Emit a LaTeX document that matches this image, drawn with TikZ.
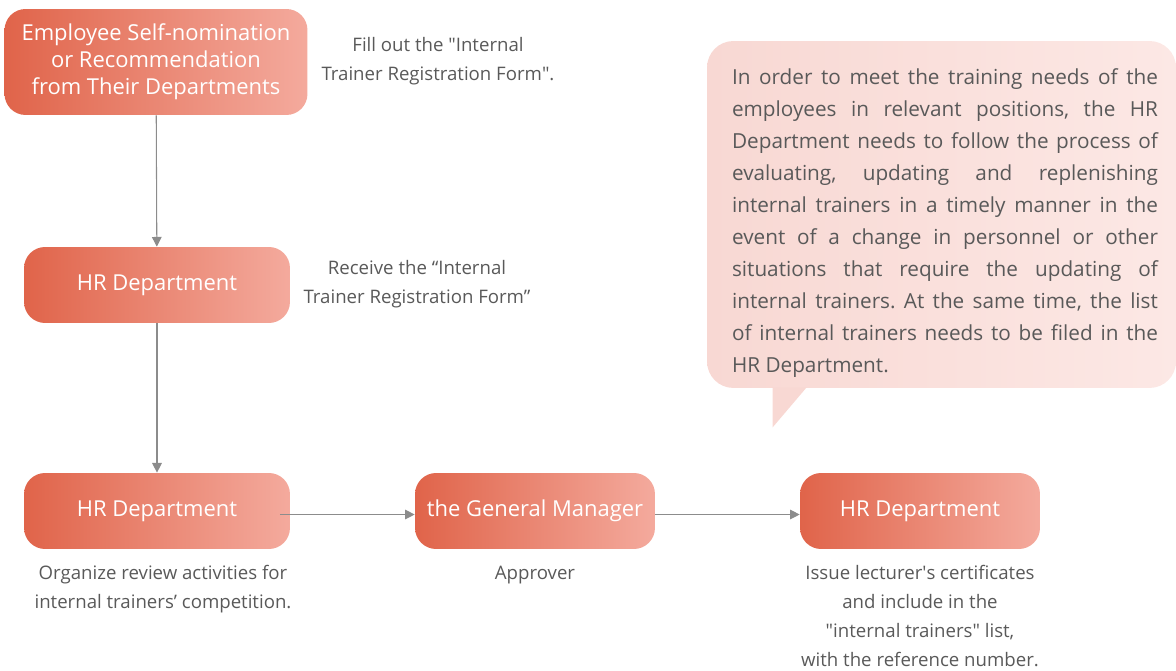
\documentclass[tikz,border=0pt]{standalone}
\usepackage{fontspec}
\setmainfont{Open Sans}
\usetikzlibrary{positioning,arrows.meta,calc}
\definecolor{boxL}{HTML}{E0644A}
\definecolor{boxR}{HTML}{F4AA9D}
\definecolor{noteL}{HTML}{F8D8D3}
\definecolor{noteR}{HTML}{FCE8E5}
\definecolor{txtgray}{HTML}{595959}
\definecolor{lngray}{HTML}{8C8C8C}
\begin{document}
\begin{tikzpicture}[x=0.02cm, y=-0.02cm,
  flow/.style={rounded corners=12pt, left color=boxL, right color=boxR, draw=none,
    text=white, font=\fontsize{12.5}{15.3}\selectfont, align=center, inner sep=0pt},
  lbl/.style={text=txtgray, font=\fontsize{10.6}{16.4}\selectfont, align=center, inner sep=0pt},
  notebox/.style={rounded corners=15pt, left color=noteL, right color=noteR, draw=none,
    inner sep=0pt, minimum width=9.38cm, minimum height=6.94cm},
  notetxt/.style={text=txtgray, font=\fontsize{11.8}{18.25}\selectfont, align=justify,
    inner sep=0pt, text width=8.52cm},
  link/.style={lngray, line width=0.6pt, -{Triangle[length=5.5pt,width=5.5pt]}},
]
  \useasboundingbox (0,0) rectangle (1176,671);

  % Steps of the flow
  \node[flow, minimum width=6.06cm, minimum height=2.12cm] (emp) at (156,62)
    {Employee Self-nomination\\or Recommendation\\from Their Departments};
  \node[flow, minimum width=5.32cm, minimum height=1.52cm] (hrrecv) at (157,285) {HR Department};
  \node[flow, minimum width=5.32cm, minimum height=1.52cm] (hrrev) at (157,511) {HR Department};
  \node[flow, minimum width=4.8cm, minimum height=1.52cm] (gm) at (535,511) {the General Manager};
  \node[flow, minimum width=4.8cm, minimum height=1.52cm] (hrcert) at (920,511) {HR Department};

  % Notes beside the steps
  \node[lbl] (fill) at (438,61) {Fill out the \textquotedbl Internal\\Trainer Registration Form\textquotedbl.};
  \node[lbl] (recv) at (417,284) {Receive the “Internal\\Trainer Registration Form”};
  \node[lbl, below=0.32cm of hrrev, xshift=0.12cm] (org) {Organize review activities for\\internal trainers’ competition.};
  \node[lbl, below=0.32cm of gm] (appr) {Approver};
  \node[lbl, below=0.32cm of hrcert] (issue) {Issue lecturer\textquotesingle s certificates\\and include in the\\\textquotedbl internal trainers\textquotedbl{} list,\\with the reference number.};

  % Callout
  \node[notebox] (note) at (941.5,214.5) {};
  \fill[noteL] ($(note.south west)+(66,-1)$) -- ($(note.south west)+(100,-1)$)
    -- ($(note.south west)+(66,39)$) -- cycle;
  \node[notetxt] (notetext) at (945,223)
    {\frenchspacing In order to meet the training needs of the\linebreak
     employees in relevant positions, the HR\linebreak
     Department needs to follow the process of\linebreak
     evaluating, updating and replenishing\linebreak
     internal trainers in a timely manner in the\linebreak
     event of a change in personnel or other\linebreak
     situations that require the updating of\linebreak
     internal trainers. At the same time, the list\linebreak
     of internal trainers needs to be filed in the\linebreak
     HR Department.\par};

  % Connectors
  \draw[link] (emp) -- (hrrecv);
  \draw[link] (hrrecv) -- (hrrev);
  \draw[link] ([xshift=-6pt,yshift=-2pt]hrrev.east) -- ([yshift=-2pt]gm.west);
  \draw[link] ([yshift=-2pt]gm.east) -- ([yshift=-2pt]hrcert.west);
\end{tikzpicture}
\end{document}
